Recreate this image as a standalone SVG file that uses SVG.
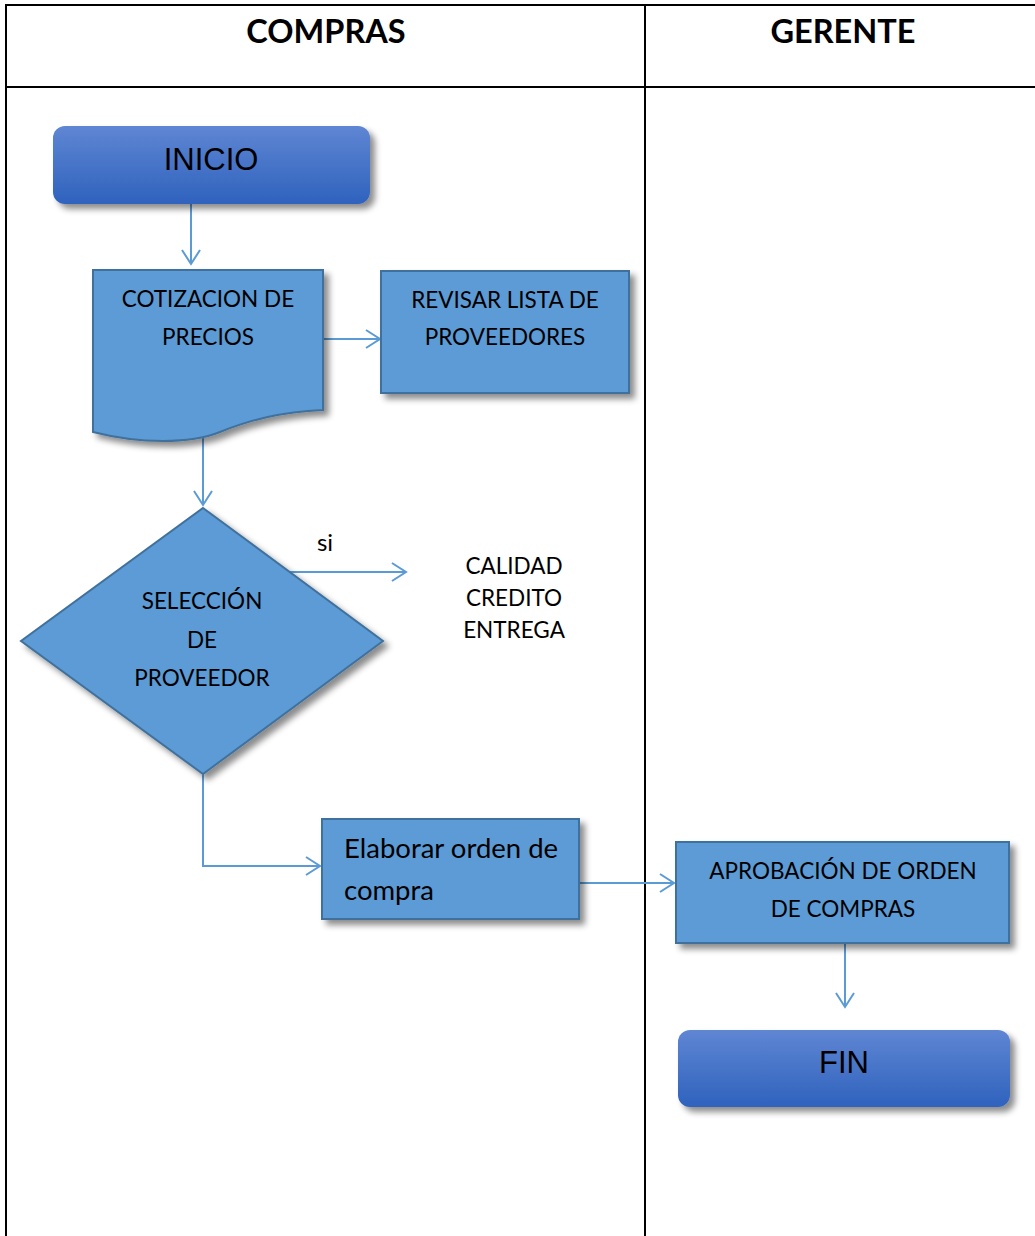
<svg xmlns="http://www.w3.org/2000/svg" width="1035" height="1236" viewBox="0 0 1035 1236">
<style>
.lane{stroke:#000;stroke-width:2;fill:none}
.hdr{font-family:Lato,"Open Sans","Liberation Sans",sans-serif;font-weight:bold;font-size:32.5px;fill:#000;text-anchor:middle}
.box{fill:#5b9bd5;stroke:#41719c;stroke-width:2}
.t{font-family:Lato,"Open Sans","Liberation Sans",sans-serif;font-size:22.5px;fill:#000;text-anchor:middle}
.tb{font-family:"Liberation Sans",Arial,sans-serif;font-size:31px;fill:#000;text-anchor:middle}
.conn{stroke:#5b9bd5;stroke-width:2;fill:none}
</style>
<defs>
<linearGradient id="gBlue" x1="0" y1="0" x2="0" y2="1">
<stop offset="0" stop-color="#5f86d3"/>
<stop offset="1" stop-color="#2f62bd"/>
</linearGradient>
<filter id="sh" x="-10%" y="-10%" width="130%" height="140%">
<feDropShadow dx="5" dy="5" stdDeviation="3" flood-color="#000" flood-opacity="0.45"/>
</filter>
<marker id="arr" markerWidth="18" markerHeight="20" refX="15" refY="10" orient="auto" markerUnits="userSpaceOnUse">
<path d="M1,1 L15,10 L1,19" fill="none" stroke="#5b9bd5" stroke-width="2"/>
</marker>
</defs>
<rect width="1035" height="1236" fill="#fff"/>
<g id="lanes">
<line class="lane" x1="5" y1="5" x2="1035" y2="5"/>
<line class="lane" x1="6" y1="5" x2="6" y2="1236"/>
<line class="lane" x1="645" y1="5" x2="645" y2="1236"/>
<line class="lane" x1="5" y1="87" x2="1035" y2="87"/>
<text class="hdr" x="326" y="43">COMPRAS</text>
<text class="hdr" x="843" y="43">GERENTE</text>
</g>
<g id="connectors">
<line class="conn" x1="191" y1="201" x2="191" y2="264" marker-end="url(#arr)"/>
<line class="conn" x1="324" y1="339" x2="380" y2="339" marker-end="url(#arr)"/>
<line class="conn" x1="203" y1="438" x2="203" y2="505" marker-end="url(#arr)"/>
<line class="conn" x1="290" y1="572" x2="406" y2="572" marker-end="url(#arr)"/>
<polyline class="conn" points="203,774 203,866 320,866" marker-end="url(#arr)"/>
<line class="conn" x1="580" y1="883" x2="674" y2="883" marker-end="url(#arr)"/>
<line class="conn" x1="845" y1="944" x2="845" y2="1007" marker-end="url(#arr)"/>
</g>
<g id="inicio">
<rect x="53" y="126" width="317" height="78" rx="12" fill="url(#gBlue)" filter="url(#sh)"/>
<text class="tb" x="211" y="170">INICIO</text>
</g>
<g id="cotizacion">
<path class="box" d="M93,270 L323,270 L323,410 C280,412 250,420 220,432 C190,444 140,444 93,432 Z" filter="url(#sh)"/>
<text class="t" x="208" y="307">COTIZACION DE</text>
<text class="t" x="208" y="345">PRECIOS</text>
</g>
<g id="revisar">
<rect class="box" x="381" y="271" width="248" height="122" filter="url(#sh)"/>
<text class="t" x="505" y="308">REVISAR LISTA DE</text>
<text class="t" x="505" y="345">PROVEEDORES</text>
</g>
<g id="seleccion">
<polygon class="box" points="203,508 383,641 203,774 21,641" filter="url(#sh)"/>
<text class="t" x="202" y="609">SELECCIÓN</text>
<text class="t" x="202" y="648">DE</text>
<text class="t" x="202" y="686">PROVEEDOR</text>
</g>
<g id="si-label">
<text class="t" x="325" y="551" style="font-size:24px">si</text>
</g>
<g id="criterios">
<text class="t" x="514" y="574">CALIDAD</text>
<text class="t" x="514" y="606">CREDITO</text>
<text class="t" x="514" y="638">ENTREGA</text>
</g>
<g id="elaborar">
<rect class="box" x="322" y="819" width="257" height="100" filter="url(#sh)"/>
<text class="t" x="344" y="858" style="text-anchor:start;font-size:27.5px">Elaborar orden de</text>
<text class="t" x="344" y="900" style="text-anchor:start;font-size:27.5px">compra</text>
</g>
<g id="aprobacion">
<rect class="box" x="676" y="842" width="333" height="101" filter="url(#sh)"/>
<text class="t" x="843" y="879">APROBACIÓN DE ORDEN</text>
<text class="t" x="843" y="917">DE COMPRAS</text>
</g>
<g id="fin">
<rect x="678" y="1030" width="332" height="77" rx="12" fill="url(#gBlue)" filter="url(#sh)"/>
<text class="tb" x="844" y="1073">FIN</text>
</g>
</svg>
